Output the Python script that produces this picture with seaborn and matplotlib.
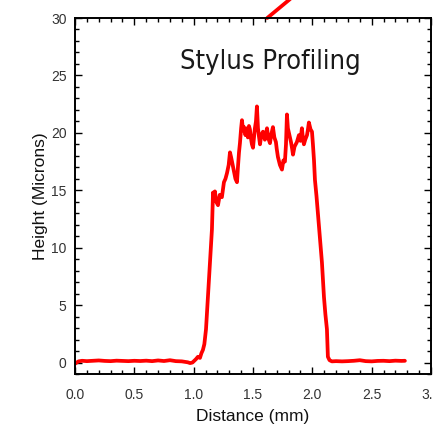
import numpy as np
import pandas as pd
import matplotlib
matplotlib.use("Agg")
import matplotlib.pyplot as plt
import seaborn as sns
from matplotlib.ticker import MultipleLocator

# profile (distance in mm, height in microns)
distance = [0.00, 0.03, 0.06, 0.10, 0.15, 0.20, 0.25, 0.30, 0.35, 0.40, 0.45, 0.50,
            0.55, 0.60, 0.65, 0.70, 0.75, 0.80, 0.85, 0.90, 0.95, 0.97, 0.99,
            1.02, 1.036, 1.053, 1.065, 1.078, 1.09, 1.104, 1.12, 1.137, 1.154, 1.163,
            1.171, 1.179, 1.19, 1.205, 1.22, 1.238, 1.255, 1.268, 1.281, 1.295, 1.306,
            1.315, 1.323, 1.34, 1.352, 1.365, 1.373, 1.382, 1.39, 1.40, 1.407, 1.416,
            1.424, 1.436, 1.449, 1.457, 1.466, 1.474, 1.483, 1.491, 1.50, 1.508, 1.516,
            1.525, 1.533, 1.542, 1.55, 1.559, 1.57, 1.584, 1.60, 1.618, 1.63, 1.643,
            1.655, 1.668, 1.68, 1.693, 1.70, 1.71, 1.727, 1.744, 1.756, 1.769, 1.778,
            1.786, 1.794, 1.807, 1.82, 1.83, 1.837, 1.85, 1.87, 1.887, 1.90, 1.912,
            1.92, 1.929, 1.94, 1.955, 1.963, 1.971, 1.985, 1.997, 2.005, 2.014, 2.022,
            2.035, 2.047, 2.064, 2.081, 2.098, 2.11, 2.123, 2.131, 2.145, 2.165, 2.20,
            2.25, 2.30, 2.35, 2.40, 2.45, 2.50, 2.55, 2.60, 2.65, 2.70, 2.75, 2.78]
height = [-0.1, 0.1, 0.15, 0.12, 0.15, 0.18, 0.14, 0.12, 0.16, 0.14, 0.12, 0.15,
          0.13, 0.16, 0.12, 0.18, 0.13, 0.2, 0.12, 0.1, 0.02, -0.05, 0.0,
          0.3, 0.5, 0.4, 0.8, 1.1, 1.6, 2.9, 5.7, 8.7, 11.6, 14.8,
          14.2, 14.9, 14.0, 13.7, 14.6, 14.4, 15.7, 16.0, 16.5, 17.2, 18.3,
          17.9, 17.5, 16.6, 16.0, 15.7, 17.0, 18.3, 19.1, 20.4, 21.1, 20.2,
          20.5, 19.8, 20.4, 19.6, 20.6, 20.3, 19.5, 19.0, 18.7, 19.6, 20.4,
          21.0, 22.3, 20.4, 19.7, 19.0, 19.8, 20.1, 19.4, 20.4, 19.5, 19.1,
          19.9, 20.5, 19.6, 19.2, 18.6, 17.9, 17.2, 16.8, 17.6, 17.5, 19.0,
          21.6, 20.4, 19.8, 19.2, 18.6, 18.1, 18.8, 19.2, 19.8, 19.3, 20.4,
          19.6, 19.0, 19.4, 19.8, 20.3, 20.9, 20.3, 20.1, 19.0, 17.6, 15.9,
          14.5, 13.0, 10.9, 8.7, 5.7, 4.2, 2.9, 0.5, 0.2, 0.1, 0.12,
          0.1, 0.12, 0.15, 0.2, 0.12, 0.1, 0.14, 0.15, 0.12, 0.16, 0.14, 0.15]

# stray stroke poking out above the frame
stray_x = [1.62, 1.90]
stray_y = [30.0, 32.4]

x_ticks = [0, 0.5, 1.0, 1.5, 2.0, 2.5, 3.0]
x_labels = ["0.0", "0.5", "1.0", "1.5", "2.0", "2.5", "3.0"]

df = pd.DataFrame({"Distance": distance, "Height": height})

sns.set_style("ticks")
plt.rcParams['font.family'] = ['Liberation Sans', 'DejaVu Sans']

fig = plt.figure(figsize=(4.33, 4.26), dpi=100)
ax = fig.add_axes([75 / 433, 52 / 426, 356 / 433, 356 / 426])

sns.lineplot(data=df, x="Distance", y="Height", color="#ff0000", linewidth=2.7,
             sort=False, estimator=None, ax=ax)
ax.plot(stray_x, stray_y, color="#ff0000", linewidth=2.7, clip_on=False)

ax.set_xlim(0, 3)
ax.set_ylim(-1, 30)
ax.xaxis.set_minor_locator(MultipleLocator(0.1))
ax.yaxis.set_major_locator(MultipleLocator(5))
ax.yaxis.set_minor_locator(MultipleLocator(1))
ax.set_xticks(x_ticks)
ax.set_xticklabels(x_labels)

ax.tick_params(which="both", direction="in", top=True, right=True, color="black",
               width=1.0, labelsize=10, labelcolor="#333333")
ax.tick_params(which="major", length=5)
ax.tick_params(which="minor", length=3)
ax.tick_params(axis="x", pad=10)
ax.tick_params(axis="y", pad=6)
for s in ax.spines.values():
    s.set_linewidth(1.4)
    s.set_color("black")

ax.set_xlabel("Distance (mm)", fontsize=12.5, color="#111111", labelpad=5)
ax.set_ylabel("Height (Microns)", fontsize=12.5, color="#111111", labelpad=2)

ax.text(0.548, 0.876, "Stylus Profiling", transform=ax.transAxes, ha="center",
        va="center", fontsize=19.5, color="#1a1a1a",
        family=["DejaVu Sans"], fontstretch="condensed")

fig.savefig("out.png", dpi=100)
